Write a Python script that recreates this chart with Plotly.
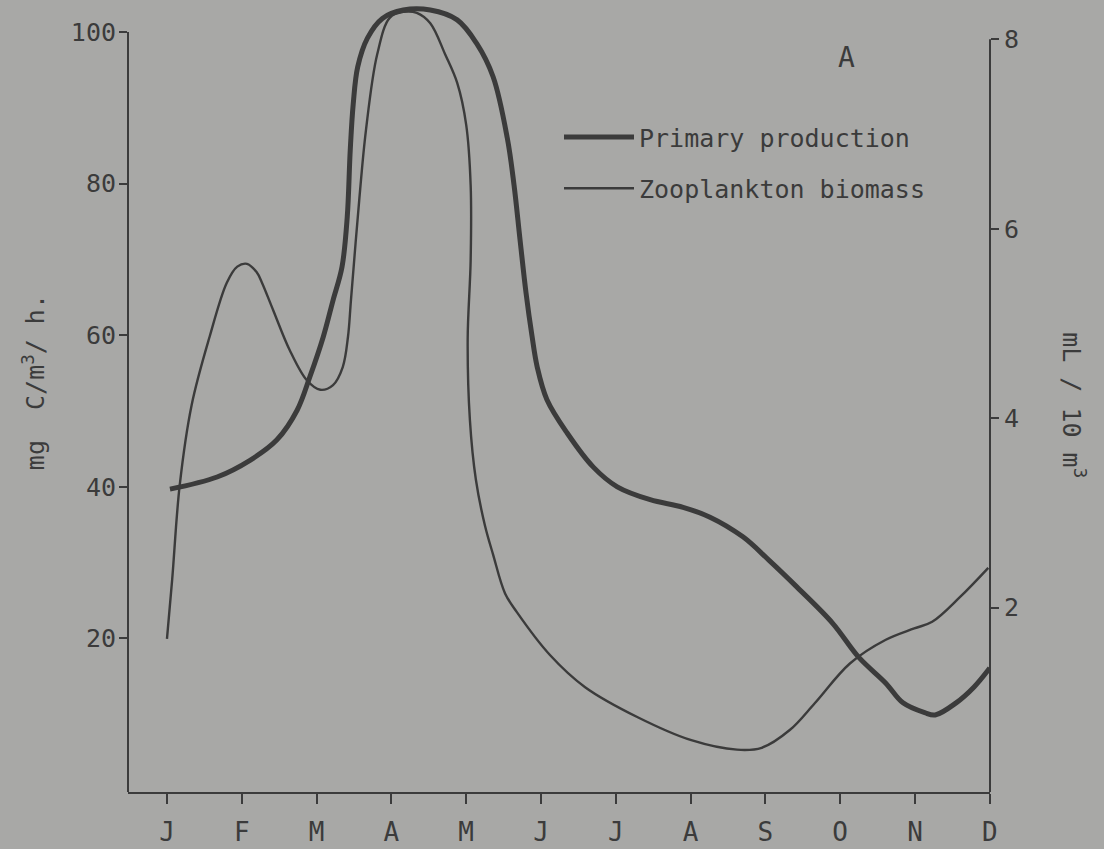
import plotly.graph_objects as go

# ---- data ----
months = ["J", "F", "M", "A", "M", "J", "J", "A", "S", "O", "N", "D"]
month_pos = list(range(12))

pp_month = [0.04, 0.67, 1.11, 1.47, 1.74, 1.91, 2.09, 2.22, 2.34, 2.41, 2.45, 2.49, 2.55, 2.68,
            2.88, 3.16, 3.52, 3.88, 4.14, 4.36, 4.55, 4.64, 4.72, 4.80, 4.88, 4.95, 5.08, 5.35,
            5.70, 6.02, 6.46, 6.90, 7.26, 7.70, 8.05, 8.42, 8.90, 9.25, 9.61, 9.84, 10.13, 10.27,
            10.55, 10.79, 11.0]
pp_value = [39.7, 41.3, 43.5, 46.2, 50.1, 54.5, 59.8, 64.6, 69.0, 75.6, 84.4, 90.5, 95.4, 99.2,
            101.8, 102.9, 102.9, 101.6, 98.5, 94.1, 86.0, 79.8, 72.6, 65.6, 59.9, 55.8, 51.5, 47.1,
            42.6, 40.0, 38.3, 37.3, 36.0, 33.4, 30.3, 26.8, 22.0, 17.5, 14.1, 11.5, 10.2, 9.9,
            11.5, 13.6, 16.1]

zoo_month = [0.00, 0.07, 0.17, 0.33, 0.57, 0.80, 0.94, 1.07, 1.20, 1.27, 1.42, 1.64, 1.87, 2.05,
             2.22, 2.35, 2.42, 2.46, 2.57, 2.66, 2.81, 2.98, 3.16, 3.34, 3.52, 3.72, 3.88, 4.00,
             4.06, 4.06, 4.02, 4.05, 4.13, 4.25, 4.36, 4.52, 4.68, 5.12, 5.59, 6.30, 7.01, 7.62,
             7.95, 8.33, 8.66, 9.13, 9.61, 9.99, 10.23, 10.60, 10.98]
zoo_value = [1.67, 2.30, 3.29, 4.14, 4.86, 5.43, 5.60, 5.63, 5.54, 5.43, 5.14, 4.72, 4.40, 4.30,
             4.35, 4.54, 4.86, 5.25, 6.30, 7.04, 7.84, 8.23, 8.29, 8.28, 8.17, 7.84, 7.54, 7.10,
             6.46, 5.67, 4.83, 3.98, 3.35, 2.87, 2.56, 2.15, 1.95, 1.50, 1.16, 0.84, 0.60, 0.50,
             0.52, 0.71, 0.99, 1.41, 1.66, 1.78, 1.85, 2.11, 2.42]

left_ticks = [20, 40, 60, 80, 100]
right_ticks = [2, 4, 6, 8]

# ---- style ----
BG = "#a8a8a6"
INK = "#3b3b3b"
FONT = "DejaVu Sans Mono"

x_range = [-0.521, 11.003]
y_range = [-0.26, 103.83]
y2_range = [0.053, 8.384]

fig = go.Figure()
fig.add_trace(go.Scatter(
    x=pp_month, y=pp_value, mode="lines", name="Primary production",
    line=dict(color=INK, width=5, shape="spline", smoothing=1.0),
    legend="legend", yaxis="y"))
fig.add_trace(go.Scatter(
    x=zoo_month, y=zoo_value, mode="lines", name="Zooplankton biomass",
    line=dict(color=INK, width=2.4, shape="spline", smoothing=1.0),
    legend="legend2", yaxis="y2"))

fig.update_layout(
    width=1104, height=849,
    margin=dict(l=128, r=114, t=3, b=57),
    paper_bgcolor=BG, plot_bgcolor=BG,
    font=dict(family=FONT, color=INK, size=24),
    showlegend=True,
    xaxis=dict(range=x_range, tickvals=month_pos, ticktext=months, showgrid=False, zeroline=False,
               showline=True, linecolor=INK, linewidth=2, ticks="outside", ticklen=10,
               tickwidth=2, tickcolor=INK, ticklabelstandoff=6,
               tickfont=dict(size=26, family=FONT, color=INK)),
    yaxis=dict(range=y_range, tickvals=left_ticks, showgrid=False, zeroline=False,
               showline=False, ticks="outside", ticklen=8, tickwidth=2, tickcolor=INK,
               ticklabelstandoff=-2, tickfont=dict(size=25, family=FONT, color=INK)),
    yaxis2=dict(range=y2_range, tickvals=right_ticks, overlaying="y", side="right",
                showgrid=False, zeroline=False, showline=False, ticks="outside", ticklen=8,
                tickwidth=2, tickcolor=INK, tickfont=dict(size=25, family=FONT, color=INK)),
    legend=dict(x=0.500, y=0.859, xanchor="left", yanchor="top", bgcolor="rgba(0,0,0,0)",
                font=dict(size=25, family=FONT, color=INK), itemwidth=70),
    legend2=dict(x=0.500, y=0.794, xanchor="left", yanchor="top", bgcolor="rgba(0,0,0,0)",
                 font=dict(size=25, family=FONT, color=INK), itemwidth=70),
    shapes=[
        dict(type="line", xref="paper", yref="y", x0=0, x1=0, y0=y_range[0],
             y1=max(left_ticks), line=dict(color=INK, width=2)),
        dict(type="line", xref="paper", yref="y2", x0=1, x1=1, y0=y2_range[0],
             y1=max(right_ticks), line=dict(color=INK, width=2)),
    ],
    annotations=[
        dict(text="mg  C/m<sup>3</sup>/ h.", xref="paper", yref="paper",
             x=-0.13, y=0.52, textangle=-90, showarrow=False,
             font=dict(size=25, family=FONT, color=INK)),
        dict(text="mL / 10 m<sup>3</sup>", xref="paper", yref="paper",
             x=1.118, y=0.49, textangle=90, showarrow=False,
             font=dict(size=25, family=FONT, color=INK)),
        dict(text="A", xref="paper", yref="paper", x=0.846, y=0.955, showarrow=False,
             font=dict(size=28, family=FONT, color=INK)),
    ],
)

fig.write_html(
    "out.html",
    config={"displayModeBar": False},
    post_script="document.body.style.margin='0';document.body.style.background='" + BG + "';",
)
